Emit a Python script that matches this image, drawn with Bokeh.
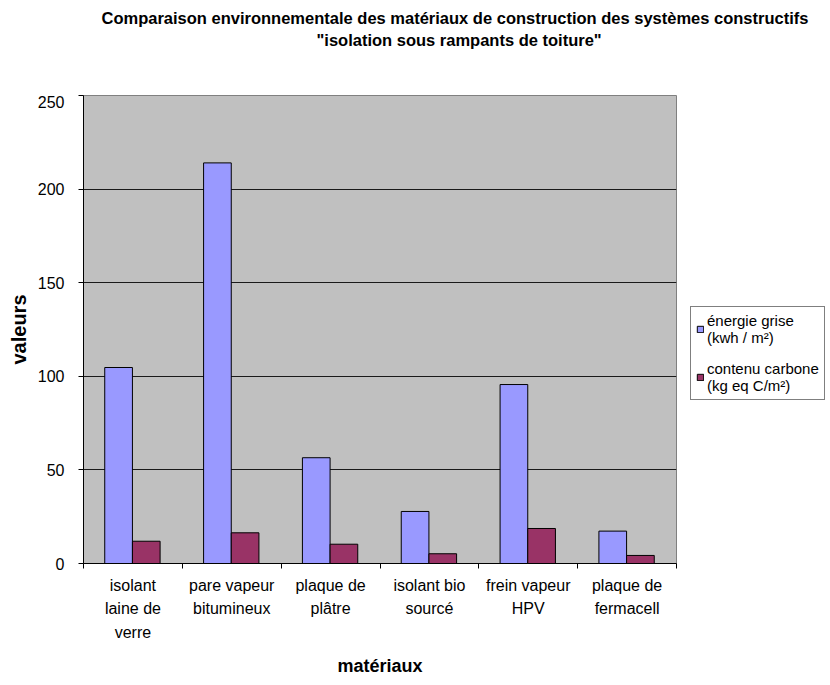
from bokeh.plotting import figure
from bokeh.layouts import column, row
from bokeh.models import (ColumnDataSource, FactorRange, Range1d, FixedTicker,
                          LinearAxis, Legend, LegendItem, Title)
from bokeh.transform import dodge
from bokeh.embed import file_html
from bokeh.resources import INLINE

# ---- data ----
categories = ["isolant\nlaine de\nverre", "pare vapeur\nbitumineux", "plaque de\nplâtre",
              "isolant bio\nsourcé", "frein vapeur\nHPV", "plaque de\nfermacell"]
energie_grise = [104.7, 214.0, 56.5, 27.8, 95.6, 17.3]
contenu_carbone = [11.9, 16.4, 10.3, 5.2, 18.7, 4.3]
series_labels = ["énergie grise\n(kwh / m²)", "contenu carbone\n(kg eq C/m²)"]
series_colors = ["#9999FF", "#993366"]
y_ticks = [0, 50, 100, 150, 200, 250]
title_lines = ["Comparaison environnementale des matériaux de construction des systèmes constructifs",
               "\"isolation sous rampants de toiture\""]
x_title = "matériaux"
y_title = "valeurs"

FONT = "Liberation Sans"

# ---------------- title strip ----------------
tfig = figure(width=828, height=95, x_axis_type=None, y_axis_type=None,
              output_backend="svg", toolbar_location=None,
              min_border_left=83, min_border_right=152, min_border_top=49, min_border_bottom=0)
tfig.outline_line_color = None
tfig.background_fill_color = "white"
tfig.border_fill_color = "white"
tfig.title.text = title_lines[0]
tfig.title.align = "left"
tfig.title.offset = 18
tfig.title.standoff = 2
tfig.title.text_font = FONT
tfig.title.text_font_size = "16.5px"
tfig.title.text_font_style = "bold"
tfig.title.text_color = "black"
tfig.add_layout(Title(text=title_lines[1], align="left", offset=233, standoff=2,
                      text_font=FONT, text_font_size="16.5px", text_font_style="bold",
                      text_color="black"), "above")

# ---------------- main chart ----------------
source = ColumnDataSource(dict(cat=categories, energie=energie_grise, carbone=contenu_carbone))

p = figure(width=684, height=589, x_range=FactorRange(*categories),
           y_range=Range1d(y_ticks[0], y_ticks[-1]),
           output_backend="svg", toolbar_location=None,
           min_border_left=83, min_border_right=8, min_border_top=0, min_border_bottom=121)

p.background_fill_color = "#C0C0C0"
p.border_fill_color = "white"
p.outline_line_color = "#808080"
p.outline_line_width = 1

r1 = p.vbar(x=dodge("cat", -0.145, range=p.x_range), top="energie", width=0.28, source=source,
            fill_color=series_colors[0], line_color="black", line_width=1)
r2 = p.vbar(x=dodge("cat", 0.135, range=p.x_range), top="carbone", width=0.28, source=source,
            fill_color=series_colors[1], line_color="black", line_width=1)

yaxis = p.yaxis[0]
yaxis.ticker = FixedTicker(ticks=y_ticks)
yaxis.axis_label = y_title
yaxis.axis_label_text_font = FONT
yaxis.axis_label_text_font_style = "bold"
yaxis.axis_label_text_font_size = "20px"
yaxis.axis_label_text_color = "black"
yaxis.axis_label_standoff = 5
yaxis.major_label_text_font = FONT
yaxis.major_label_text_font_size = "16px"
yaxis.major_label_text_color = "black"
yaxis.major_label_standoff = 14
yaxis.major_tick_out = 5
yaxis.major_tick_in = 0
yaxis.minor_tick_out = 0
yaxis.minor_tick_in = 0
yaxis.axis_line_color = "black"
yaxis.major_tick_line_color = "black"

p.ygrid.ticker = FixedTicker(ticks=y_ticks[1:-1])
p.ygrid.grid_line_color = "#1a1a1a"
p.xgrid.visible = False

xcat = p.xaxis[0]
tick_axis = LinearAxis(ticker=FixedTicker(ticks=list(range(len(categories) + 1))),
                       major_label_text_font_size="0px", major_label_text_color=None,
                       major_label_standoff=0,
                       major_tick_out=5, major_tick_in=0, minor_tick_out=0, minor_tick_in=0,
                       axis_line_color="black", major_tick_line_color="black")
p.below = [tick_axis, xcat]
xcat.axis_line_color = None
xcat.major_tick_line_color = None
xcat.major_tick_out = 0
xcat.major_tick_in = 0
xcat.major_label_standoff = 8
xcat.major_label_text_font = FONT
xcat.major_label_text_font_size = "16px"
xcat.major_label_text_color = "black"
xcat.major_label_text_line_height = 1.4
xcat.major_label_orientation = "horizontal"
xcat.axis_label = x_title
xcat.axis_label_text_font = FONT
xcat.axis_label_text_font_style = "bold"
xcat.axis_label_text_font_size = "18px"
xcat.axis_label_text_color = "black"
xcat.axis_label_standoff = 12

# ---------------- legend strip ----------------
lfig = figure(width=144, height=589, x_range=FactorRange(*categories),
              y_range=Range1d(y_ticks[0], y_ticks[-1]),
              x_axis_type=None, y_axis_type=None,
              output_backend="svg", toolbar_location=None, min_border=0)
lfig.outline_line_color = None
lfig.background_fill_color = "white"
lfig.border_fill_color = "white"
# hidden copies of the two series, used only to draw the legend swatches
k1 = lfig.vbar(x="cat", top="energie", width=0.28, source=source, visible=False,
               fill_color=series_colors[0], line_color="black")
k2 = lfig.vbar(x="cat", top="carbone", width=0.28, source=source, visible=False,
               fill_color=series_colors[1], line_color="black")

legend = Legend(items=[LegendItem(label=series_labels[0], renderers=[k1]),
                       LegendItem(label=series_labels[1], renderers=[k2])],
                location=(6, 163), orientation="vertical",
                border_line_color="black", border_line_width=1,
                background_fill_color="white", background_fill_alpha=1,
                label_text_font=FONT, label_text_font_size="15px", label_text_color="black",
                label_text_line_height=1.2,
                glyph_width=8, glyph_height=8, label_standoff=3, padding=5, spacing=14, margin=0)
lfig.add_layout(legend)

layout = column(tfig, row(p, lfig))
open("out.html", "w").write(file_html(layout, INLINE))
